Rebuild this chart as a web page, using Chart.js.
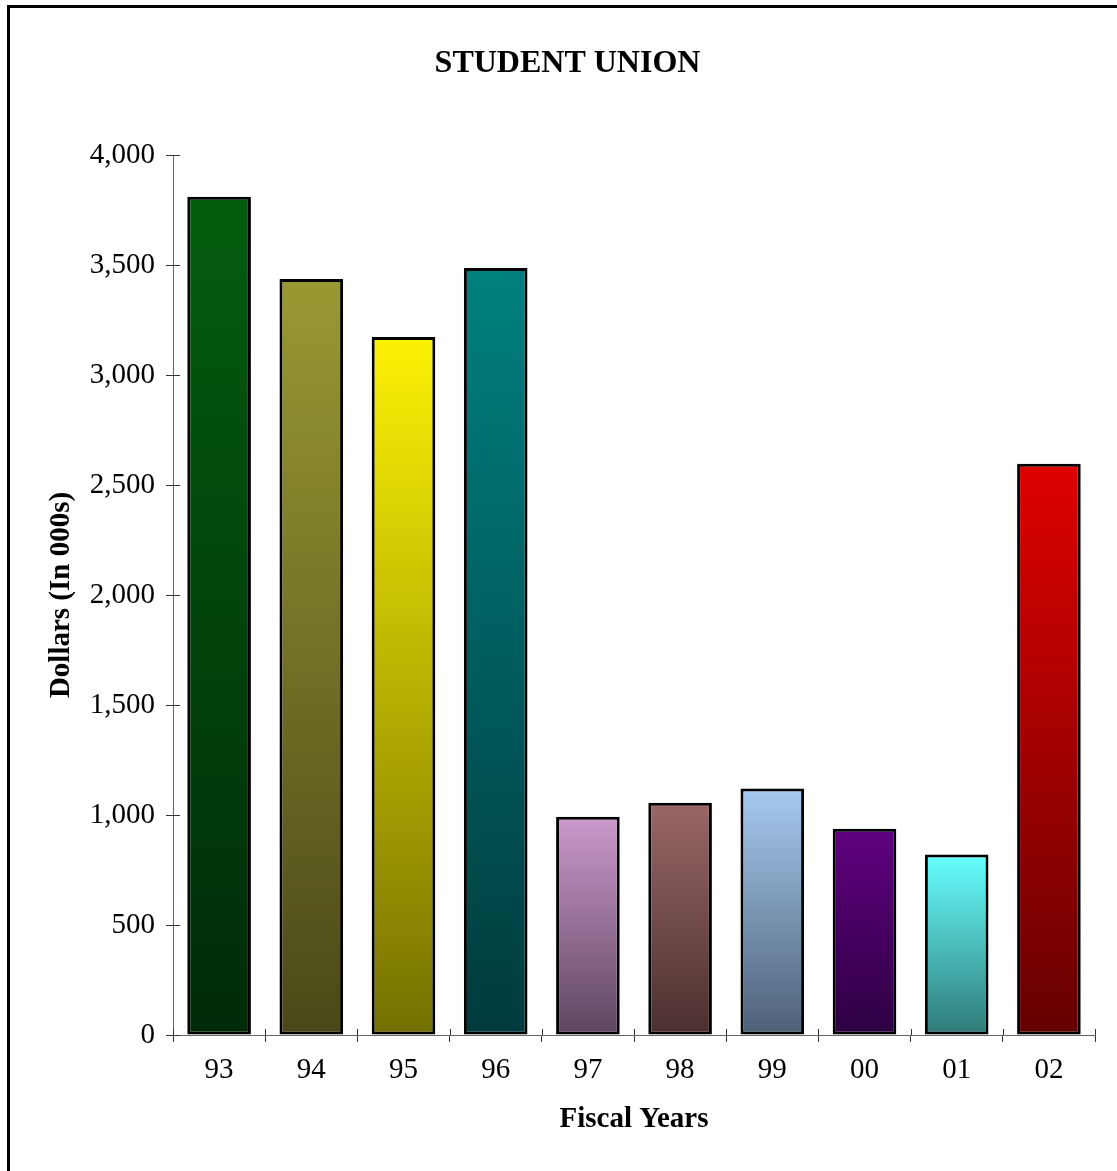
<!DOCTYPE html>
<html>
<head>
<meta charset="utf-8">
<script src="https://cdn.jsdelivr.net/npm/chart.js@4/dist/chart.umd.min.js"></script>
<style>
  html, body { margin: 0; padding: 0; background: #fff; }
  #wrap { position: relative; width: 1117px; height: 1171px; }
  #frame { position: absolute; left: 7px; top: 5px; right: -10px; bottom: -10px; border-left: 3px solid #000; border-top: 3px solid #000; pointer-events: none; }
  canvas { position: absolute; left: 0; top: 0; }
</style>
</head>
<body>
<div id="wrap">
  <canvas id="c" width="1117" height="1171"></canvas>
  <div id="frame"></div>
</div>
<script>
const categories = ['93', '94', '95', '96', '97', '98', '99', '00', '01', '02'];
const values = [3810, 3436, 3173, 3486, 992, 1056, 1120, 938, 821, 2597];
const yTicks = [0, 500, 1000, 1500, 2000, 2500, 3000, 3500, 4000];
const topColors = ['#035D0E', '#999933', '#FCF205', '#008080', '#CC99CC', '#996666', '#A6CAF0', '#600080', '#66FFFF', '#DE0200'];
const bottomColors = ['#002B08', '#4A4818', '#747000', '#003B3D', '#5E4560', '#4A302F', '#4E6076', '#2D0042', '#2F7A78', '#650000'];

const serif = '"Liberation Serif", "Times New Roman", serif';

function barGradient(ctx) {
  const chart = ctx.chart;
  const i = ctx.dataIndex;
  const ys = chart.scales && chart.scales.y;
  if (!ys || !chart.chartArea || i === undefined) return topColors[i || 0];
  const yTop = ys.getPixelForValue(values[i]);
  const yBot = ys.getPixelForValue(0);
  const g = chart.ctx.createLinearGradient(0, yTop, 0, yBot);
  g.addColorStop(0, topColors[i]);
  g.addColorStop(1, bottomColors[i]);
  return g;
}

const innerTicks = {
  id: 'innerTicks',
  afterDraw(chart) {
    const c = chart.ctx;
    const xs = chart.scales.x, ys = chart.scales.y;
    c.save();
    c.strokeStyle = '#333';
    c.lineWidth = 1;
    c.beginPath();
    yTicks.forEach(v => {
      const y = Math.round(ys.getPixelForValue(v)) + 0.5;
      c.moveTo(xs.left, y); c.lineTo(xs.left + 7, y);
    });
    for (let k = 0; k <= categories.length; k++) {
      const x = Math.round(xs.left + (xs.right - xs.left) * k / categories.length) + 0.5;
      c.moveTo(x, ys.bottom); c.lineTo(x, ys.bottom - 6);
    }
    c.stroke();
    c.restore();
  }
};

new Chart(document.getElementById('c'), {
  type: 'bar',
  data: {
    labels: categories,
    datasets: [{
      data: values,
      backgroundColor: barGradient,
      borderColor: '#000',
      borderWidth: 3,
      borderSkipped: false,
      barPercentage: 0.69,
      categoryPercentage: 1.0
    }]
  },
  options: {
    responsive: false,
    animation: false,
    devicePixelRatio: 1,
    layout: { padding: { left: 40, right: 22, top: 0, bottom: 0 } },
    plugins: {
      legend: { display: false },
      tooltip: { enabled: false },
      title: {
        display: true,
        text: 'STUDENT UNION',
        color: '#000',
        font: { family: serif, size: 32, weight: 'bold', lineHeight: 1.2 },
        padding: { top: 44.8, bottom: 71.8 }
      }
    },
    scales: {
      x: {
        grid: { display: true, drawOnChartArea: false, tickLength: 7, color: '#333', offset: true },
        border: { display: true, color: '#666', width: 1 },
        ticks: { color: '#000', font: { family: serif, size: 29 }, padding: 11, maxRotation: 0 },
        title: {
          display: true, text: 'Fiscal Years', color: '#000',
          font: { family: serif, size: 29, weight: 'bold', lineHeight: 1.2 },
          padding: { top: 0, bottom: 33.6 }
        },
        afterFit(scale) { scale.height = 136; }
      },
      y: {
        min: 0, max: 4000,
        afterBuildTicks(scale) { scale.ticks = yTicks.map(v => ({ value: v })); },
        grid: { display: true, drawOnChartArea: false, tickLength: 7, color: '#333' },
        border: { display: true, color: '#666', width: 1 },
        ticks: {
          color: '#000', font: { family: serif, size: 29 }, padding: 11,
          callback: v => v.toLocaleString('en-US')
        },
        title: {
          display: true, text: 'Dollars (In 000s)', color: '#000',
          font: { family: serif, size: 29, weight: 'bold', lineHeight: 1.2 },
          padding: { top: 4.6, bottom: 0 }
        },
        afterFit(scale) { scale.width = 133; }
      }
    }
  },
  plugins: [innerTicks]
});
</script>
</body>
</html>
